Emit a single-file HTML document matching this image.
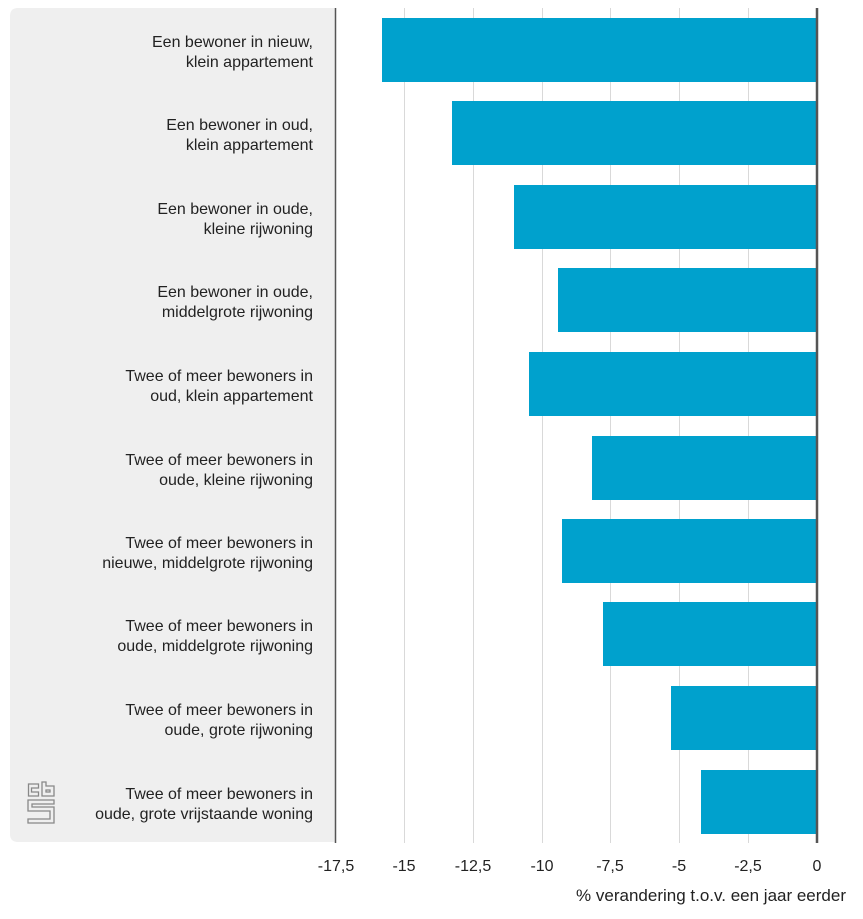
<!DOCTYPE html>
<html><head><meta charset="utf-8"><style>
html,body{margin:0;padding:0;background:#fff;}
svg{display:block;font-family:"Liberation Sans",Arial,sans-serif;}
</style></head><body>
<svg width="863" height="919" viewBox="0 0 863 919" xmlns="http://www.w3.org/2000/svg">
<path d="M18 8 H335 V842 H18 Q10 842 10 834 V16 Q10 8 18 8 Z" fill="#efefef"/>
<g stroke="#d9d9d9" stroke-width="1">
<line x1="404.5" y1="8" x2="404.5" y2="843"/>
<line x1="473.5" y1="8" x2="473.5" y2="843"/>
<line x1="542.5" y1="8" x2="542.5" y2="843"/>
<line x1="610.5" y1="8" x2="610.5" y2="843"/>
<line x1="679.5" y1="8" x2="679.5" y2="843"/>
<line x1="748.5" y1="8" x2="748.5" y2="843"/>
</g>
<g fill="#00a1cd">
<rect x="382" y="18" width="435" height="64"/>
<rect x="452" y="101" width="365" height="64"/>
<rect x="514" y="185" width="303" height="64"/>
<rect x="558" y="268" width="259" height="64"/>
<rect x="529" y="352" width="288" height="64"/>
<rect x="592" y="436" width="225" height="64"/>
<rect x="562" y="519" width="255" height="64"/>
<rect x="603" y="602" width="214" height="64"/>
<rect x="671" y="686" width="146" height="64"/>
<rect x="701" y="770" width="116" height="64"/>
</g>
<line x1="335.5" y1="8" x2="335.5" y2="843" stroke="#555" stroke-width="1.5"/>
<line x1="817" y1="8" x2="817" y2="843" stroke="#555" stroke-width="2.5"/>
<g font-size="16" fill="#222" text-anchor="end">
<text x="313" y="47">Een bewoner in nieuw,</text><text x="313" y="67">klein appartement</text>
<text x="313" y="130">Een bewoner in oud,</text><text x="313" y="150">klein appartement</text>
<text x="313" y="214">Een bewoner in oude,</text><text x="313" y="234">kleine rijwoning</text>
<text x="313" y="297">Een bewoner in oude,</text><text x="313" y="317">middelgrote rijwoning</text>
<text x="313" y="381">Twee of meer bewoners in</text><text x="313" y="401">oud, klein appartement</text>
<text x="313" y="465">Twee of meer bewoners in</text><text x="313" y="485">oude, kleine rijwoning</text>
<text x="313" y="548">Twee of meer bewoners in</text><text x="313" y="568">nieuwe, middelgrote rijwoning</text>
<text x="313" y="631">Twee of meer bewoners in</text><text x="313" y="651">oude, middelgrote rijwoning</text>
<text x="313" y="715">Twee of meer bewoners in</text><text x="313" y="735">oude, grote rijwoning</text>
<text x="313" y="799">Twee of meer bewoners in</text><text x="313" y="819">oude, grote vrijstaande woning</text>
</g>
<g font-size="16" fill="#222" text-anchor="middle">
<text x="336" y="871">-17,5</text>
<text x="404" y="871">-15</text>
<text x="473" y="871">-12,5</text>
<text x="542" y="871">-10</text>
<text x="610" y="871">-7,5</text>
<text x="679" y="871">-5</text>
<text x="748" y="871">-2,5</text>
<text x="817" y="871">0</text>
</g>
<text x="846" y="901" font-size="17" fill="#222" text-anchor="end">% verandering t.o.v. een jaar eerder</text>
<g fill="none" stroke="#888" stroke-width="1.3">
<path d="M28.5 784 h10 v4 h-7 v4 h7 v4 h-10 z"/>
<path d="M42 782 v14 h12 v-10 h-8 v-4 z M46 790 h4 v2 h-4 z"/>
<path d="M28 800 h26 v4 h-22 v3 h22 v16 h-26 v-4 h22 v-8 h-22 z"/>
</g>
</svg>
</body></html>
